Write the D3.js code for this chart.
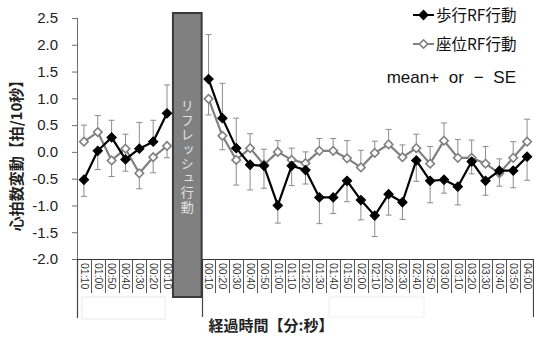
<!DOCTYPE html>
<html><head><meta charset="utf-8">
<script src="https://cdn.jsdelivr.net/npm/d3@7"></script>
<style>
html,body{margin:0;padding:0;background:#fff;}
svg{display:block;font-family:"Liberation Sans",Arial,"Noto Sans CJK JP",sans-serif;}
.jp{font-family:"Noto Sans CJK JP",sans-serif;}
</style></head>
<body>
<svg id="chart" width="534" height="338"></svg>
<script>
// ---- data ----
const preLabels = ["01:10","01:00","00:50","00:40","00:30","00:20","00:10"];
const postLabels = ["00:10","00:20","00:30","00:40","00:50","01:00","01:10","01:20","01:30","01:40","01:50","02:00",
  "02:10","02:20","02:30","02:40","02:50","03:00","03:10","03:20","03:30","03:40","03:50","04:00"];
const gapSlots = 2;
// 歩行RF行動 (walking) mean and signed SE (+ = drawn upward, - = downward)
const walkPre = [-0.52,0.02,0.27,-0.14,0.06,0.19,0.72];
const walkPreErr = [-0.31,-0.35,0.32,-0.22,0.49,0.40,0.53];
const walkPost = [1.36,0.63,0.07,-0.24,-0.26,-1.00,-0.26,-0.34,-0.85,-0.85,-0.54,-0.90,
  -1.19,-0.79,-0.94,-0.16,-0.54,-0.52,-0.65,-0.18,-0.54,-0.35,-0.35,-0.09];
const walkPostErr = [0.83,0.65,0.56,-0.47,-0.42,-0.33,-0.37,-0.26,-0.49,-0.30,-0.39,-0.37,
  -0.39,-0.39,-0.32,-0.39,-0.41,-0.25,-0.34,-0.23,-0.27,-0.29,-0.32,-0.44];
// 座位RF行動 (sitting)
const sitPre = [0.19,0.37,-0.16,0.06,-0.40,-0.10,0.11];
const sitPreErr = [0.31,0.31,-0.30,0.27,-0.29,-0.29,-0.22];
const sitPost = [0.99,0.30,-0.15,0.07,-0.24,0.00,-0.15,-0.21,0.02,0.02,-0.12,-0.29,
  -0.02,0.14,-0.10,0.07,-0.22,0.21,-0.11,-0.11,-0.22,-0.40,-0.11,0.19];
const sitPostErr = [-0.30,-0.26,-0.47,0.27,0.29,0.21,0.22,0.21,0.23,0.23,0.33,0.32,
  0.22,0.28,0.23,0.26,0.32,0.33,0.34,0.33,0.32,0.27,0.30,0.42];
const yTicks = [-2.0,-1.5,-1.0,-0.5,0.0,0.5,1.0,1.5,2.0,2.5];
const yTickLabels = ["-2.0","-1.5","-1.0","-0.5","0.0","0.5","1.0","1.5","2.0","2.5"];
const seriesNames = ["歩行RF行動","座位RF行動"];
const yTitle = "心拍数変動【拍/10秒】";
const xTitle = "経過時間【分:秒】";
const boxLabel = "リフレッシュ行動";
const noteText = "mean+ or − SE";

// ---- layout ----
const svg = d3.select("#chart");
const pL = 77, pR = 534, pT = 18, pB = 259;
const nCat = preLabels.length + gapSlots + postLabels.length;
const x = d3.scaleBand().domain(d3.range(nCat)).range([pL, pR]).padding(0);
const y = d3.scaleLinear().domain([-2, 2.5]).range([pB, pT]);
const preIdx = preLabels.map((d,i)=>i);
const postIdx = postLabels.map((d,i)=>preLabels.length + gapSlots + i);
const cx = i => x(i) + x.bandwidth()/2;

// faint boxes below axis
svg.append("rect").attr("x", 82).attr("y", 297).attr("width", 83).attr("height", 22)
  .attr("fill","none").attr("stroke","#e8e8e8");
svg.append("rect").attr("x", 329).attr("y", 297).attr("width", 95).attr("height", 20)
  .attr("fill","none").attr("stroke","#eeeeee");

// y axis
const yAxis = svg.append("g").attr("transform",`translate(${pL},0)`)
  .call(d3.axisLeft(y).tickValues(yTicks).tickFormat((d,i)=>yTickLabels[i]).tickSize(5).tickPadding(14));
yAxis.select(".domain").attr("stroke","#6e6e6e").attr("d",`M0.5,${pT}V${pB}`);
yAxis.selectAll(".tick line").attr("stroke","#6e6e6e");
yAxis.selectAll(".tick text").attr("font-size",15).attr("fill","#222")
  .attr("font-family","'Liberation Sans',Arial,sans-serif");

// x axis line and category dividers
svg.append("line").attr("x1",pL).attr("x2",pR).attr("y1",pB+0.5).attr("y2",pB+0.5)
  .attr("stroke","#333").attr("stroke-width",1.2);
const divs = d3.range(nCat+1).map(i => i < nCat ? x(i) : pR-1);
svg.append("g").selectAll("line").data(divs).join("line")
  .attr("x1",d=>Math.round(d)+0.5).attr("x2",d=>Math.round(d)+0.5)
  .attr("y1",pB).attr("y2",293).attr("stroke","#555").attr("stroke-width",1);
// group separators
[[pL,318],[x(postIdx[0]),317],[pR-1,317]].forEach(([xx,yy])=>{
  svg.append("line").attr("x1",Math.round(xx)+0.5).attr("x2",Math.round(xx)+0.5)
    .attr("y1",pB).attr("y2",yy).attr("stroke","#444").attr("stroke-width",1.2);
});
// x labels
const xlabs = preIdx.map((i,k)=>({i, t:preLabels[k]})).concat(postIdx.map((i,k)=>({i, t:postLabels[k]})));
svg.append("g").selectAll("text").data(xlabs).join("text")
  .attr("transform",d=>`translate(${cx(d.i)+0.5},${pB+4}) rotate(90)`)
  .attr("dy","0.35em").attr("text-anchor","start")
  .attr("font-size",10.5).attr("fill","#333").text(d=>d.t);

// box
const bx0 = x(preLabels.length) - 1, bx1 = x(preLabels.length + gapSlots);
svg.append("rect").attr("x",bx0).attr("y",13).attr("width",bx1-bx0).attr("height",297-13)
  .attr("fill","#808080").attr("stroke","#3a3a3a").attr("stroke-width",2);
svg.append("text").attr("class","jp").attr("x",(bx0+bx1)/2).attr("y",157)
  .attr("text-anchor","middle").style("writing-mode","vertical-rl")
  .attr("font-size",13).attr("letter-spacing",1.5).attr("fill","#e0e0e0").text(boxLabel);

// series drawing
function drawSeries(idx, vals, errs, opt){
  const pts = idx.map((i,k)=>({x:cx(i), v:vals[k], e:errs[k]}));
  const g = svg.append("g");
  pts.forEach(p=>{
    const y1 = y(p.v), y2 = y(p.v + p.e);
    g.append("line").attr("x1",p.x).attr("x2",p.x).attr("y1",y1).attr("y2",y2)
      .attr("stroke","#8c8c8c").attr("stroke-width",1);
    g.append("line").attr("x1",p.x-3).attr("x2",p.x+3).attr("y1",y2).attr("y2",y2)
      .attr("stroke","#8c8c8c").attr("stroke-width",1);
  });
  g.append("path").datum(pts).attr("fill","none").attr("stroke",opt.color).attr("stroke-width",2.2)
    .attr("stroke-linejoin","round").attr("d",d3.line().x(d=>d.x).y(d=>y(d.v)));
  return {g, pts};
}
function drawMarkers(g, pts, opt){
  g.selectAll(null).data(pts).join("path")
    .attr("transform",d=>`translate(${d.x},${y(d.v)}) rotate(45)`)
    .attr("d", d3.symbol().type(d3.symbolSquare).size(opt.size))
    .attr("fill",opt.fill).attr("stroke",opt.color).attr("stroke-width",opt.sw);
}
const sitOpt = {color:"#808080", fill:"#fff", size:36, sw:1.6};
const walkOpt = {color:"#000", fill:"#000", size:44, sw:1};
const s1 = drawSeries(preIdx, sitPre, sitPreErr, sitOpt);
const s2 = drawSeries(postIdx, sitPost, sitPostErr, sitOpt);
const w1 = drawSeries(preIdx, walkPre, walkPreErr, walkOpt);
const w2 = drawSeries(postIdx, walkPost, walkPostErr, walkOpt);
drawMarkers(s1.g, s1.pts, sitOpt); drawMarkers(s2.g, s2.pts, sitOpt);
drawMarkers(w1.g, w1.pts, walkOpt); drawMarkers(w2.g, w2.pts, walkOpt);

// legend
const legend = [{name:seriesNames[0], opt:walkOpt, y:15},{name:seriesNames[1], opt:sitOpt, y:44}];
legend.forEach(l=>{
  svg.append("line").attr("x1",413).attr("x2",434).attr("y1",l.y).attr("y2",l.y)
    .attr("stroke",l.opt.color).attr("stroke-width",2);
  svg.append("path").attr("transform",`translate(423.5,${l.y}) rotate(45)`)
    .attr("d", d3.symbol().type(d3.symbolSquare).size(l.opt.size))
    .attr("fill",l.opt.fill).attr("stroke",l.opt.color).attr("stroke-width",l.opt.sw);
  svg.append("text").attr("class","jp").attr("x",436).attr("y",l.y).attr("dy","0.36em")
    .attr("font-size",15.5).attr("fill","#111").text(l.name);
});
svg.append("text").attr("x",516).attr("y",77).attr("dy","0.36em").attr("text-anchor","end")
  .attr("font-size",17).attr("word-spacing",5).attr("fill","#111").text(noteText);

// titles
svg.append("text").attr("class","jp").attr("transform","translate(17,152) rotate(-90)")
  .attr("text-anchor","middle").attr("dy","0.35em").attr("font-size",15).attr("font-weight","bold")
  .attr("fill","#222").text(yTitle);
svg.append("text").attr("class","jp").attr("x",271).attr("y",326).attr("dy","0.35em")
  .attr("text-anchor","middle").attr("font-size",15).attr("font-weight","bold")
  .attr("fill","#222").text(xTitle);
</script>
</body></html>
